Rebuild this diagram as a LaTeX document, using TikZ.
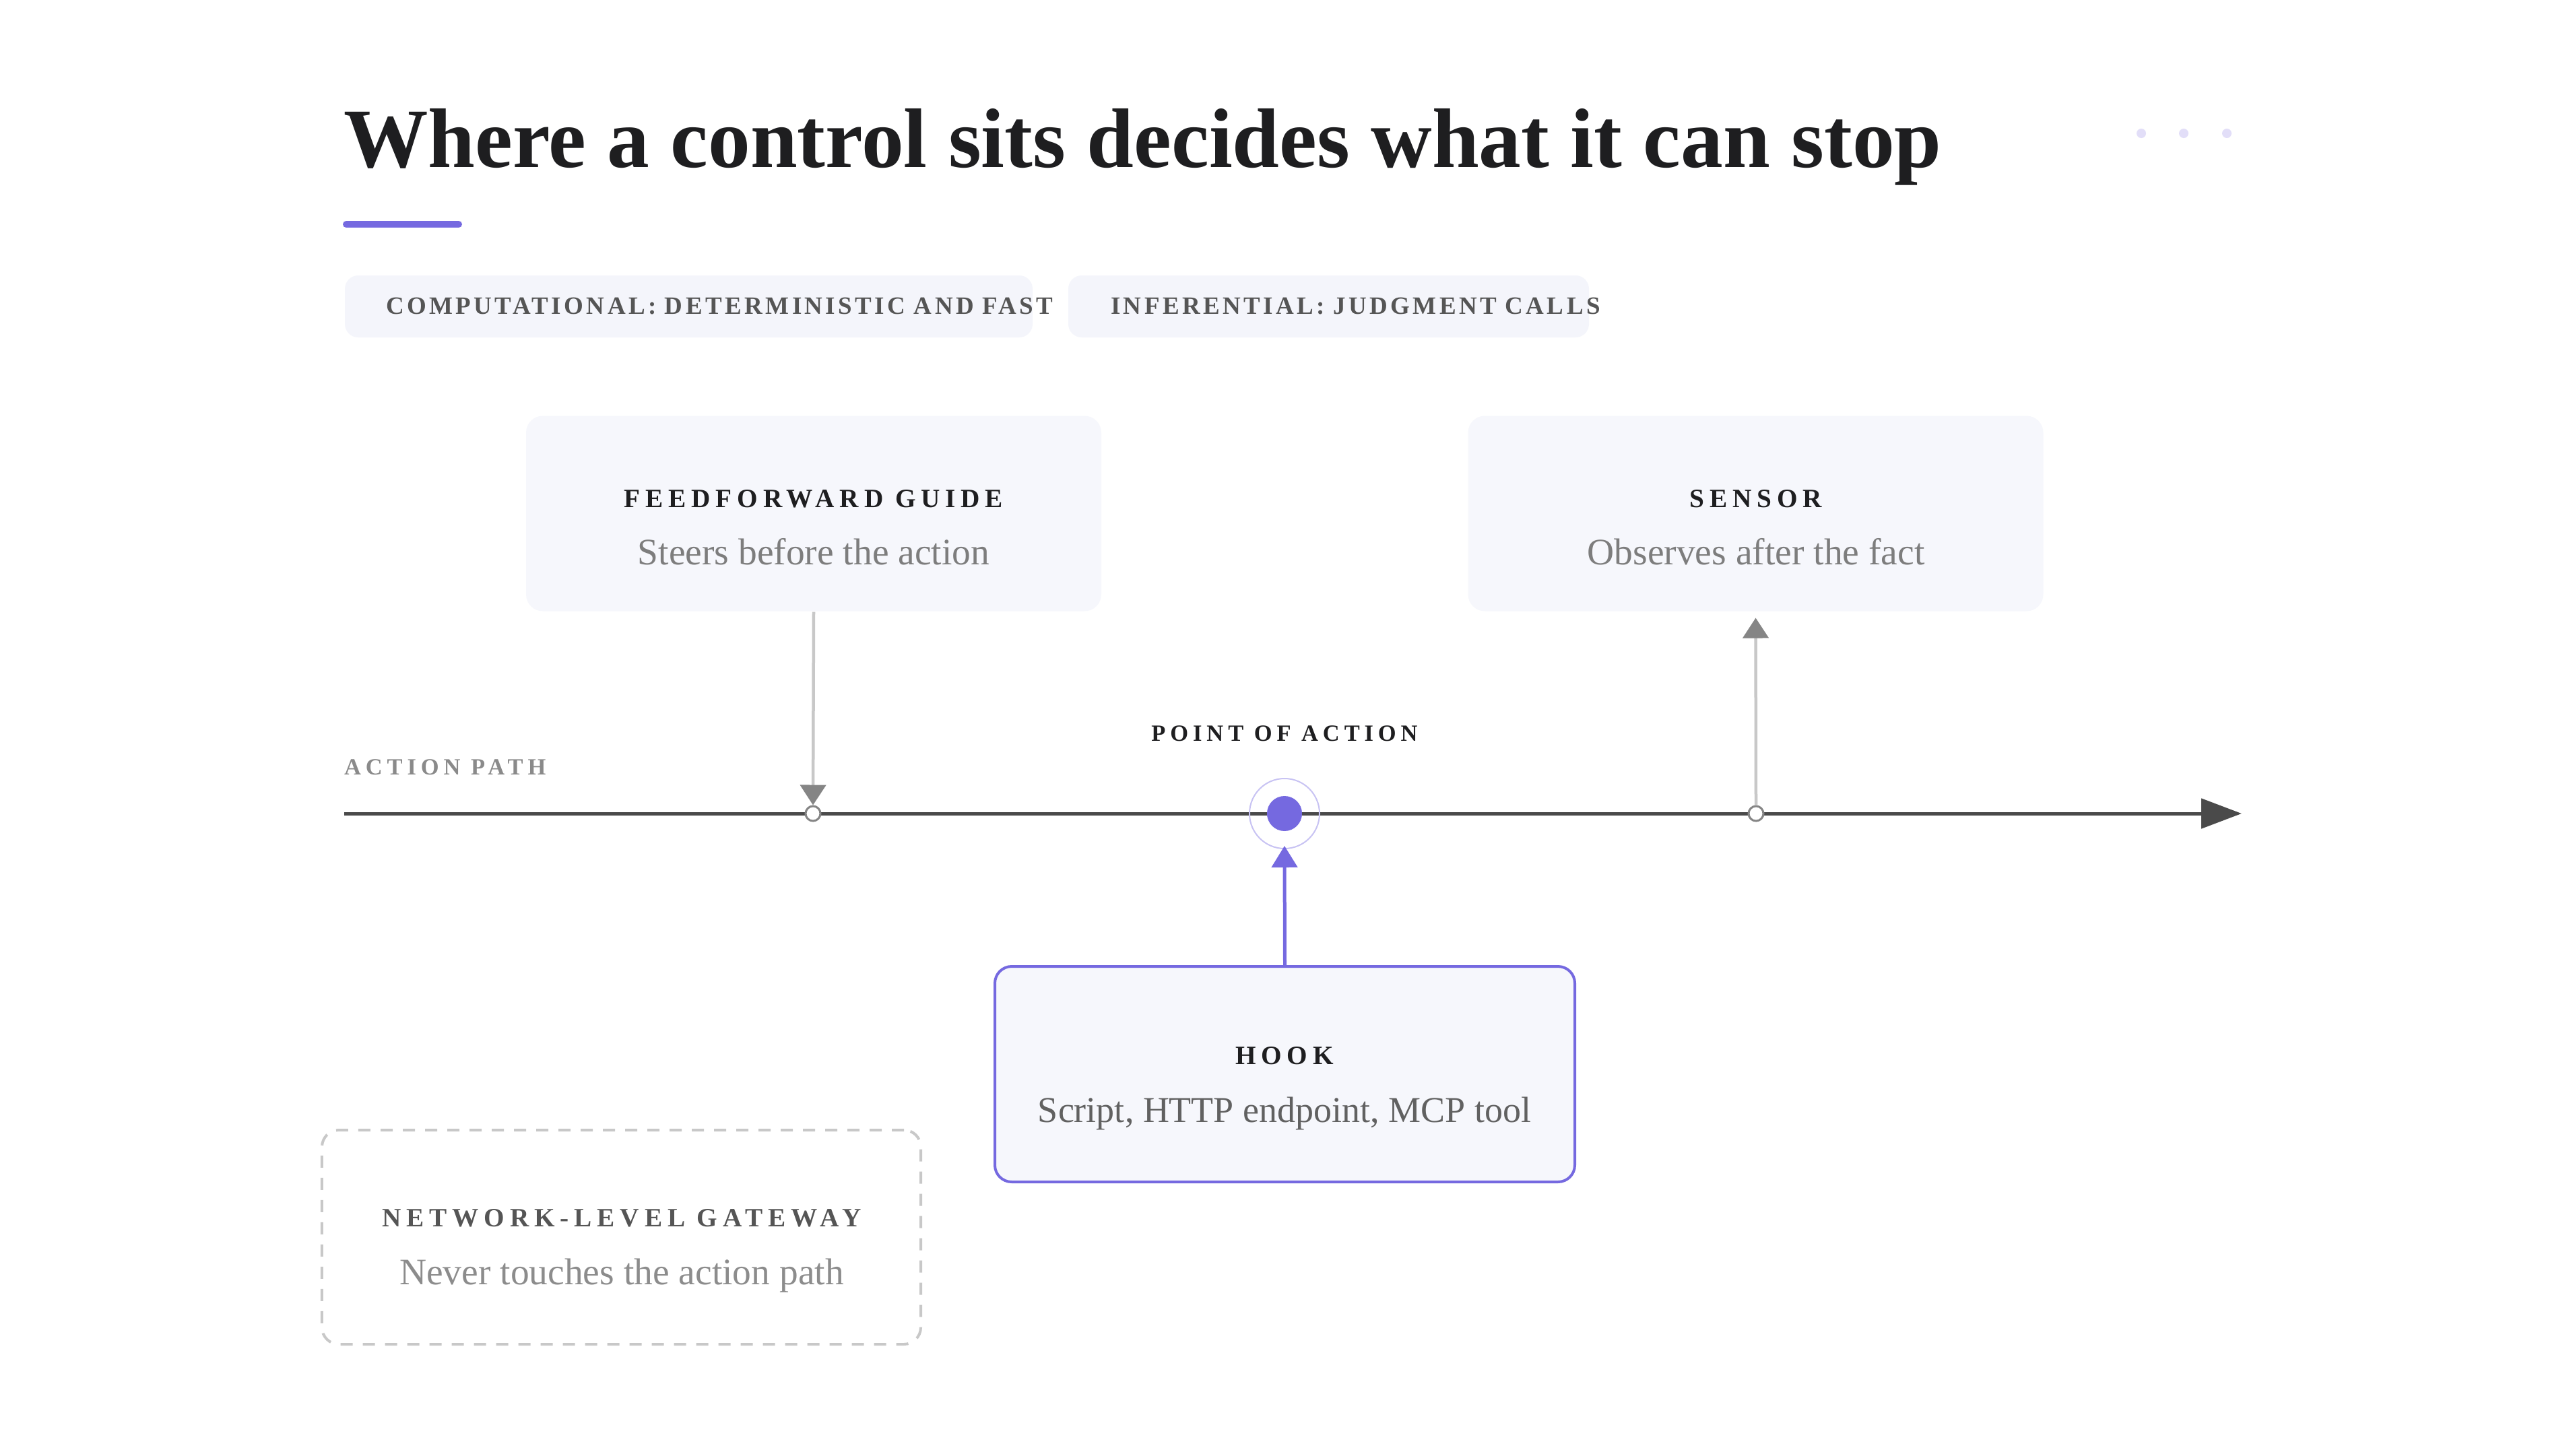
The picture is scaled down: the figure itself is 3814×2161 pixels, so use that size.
\documentclass[tikz,border=0pt]{standalone}
\usepackage{fontspec}
\setmainfont{Liberation Serif}
\newfontfamily\spacedfont[LetterSpace=20]{Liberation Serif}
\newfontfamily\tagfont[LetterSpace=12]{Liberation Serif}
\usetikzlibrary{arrows.meta}

\definecolor{ink}{HTML}{1E1E20}
\definecolor{accent}{HTML}{7569E0}
\definecolor{panelbg}{HTML}{F6F7FC}
\definecolor{tagbg}{HTML}{F4F5FB}
\definecolor{tagtext}{HTML}{555555}
\definecolor{subtext}{HTML}{7D7D7D}
\definecolor{pathgray}{HTML}{8A8A8A}
\definecolor{axisgray}{HTML}{4A4A4A}
\definecolor{wiregray}{HTML}{C8C8C8}
\definecolor{tipgray}{HTML}{858585}
\definecolor{dotfill}{HTML}{E2DEF8}

\begin{document}
\begin{tikzpicture}[x=0.2pt,y=-0.2pt,
  txt/.style={inner sep=0pt,anchor=base},
  heading/.style={txt,anchor=base west,text=ink,font=\fontsize{25.1}{30}\selectfont\bfseries},
  boxttl/.style={txt,text=ink,font=\spacedfont\bfseries\fontsize{7.85}{9}\selectfont},
  boxsub/.style={txt,text=subtext,font=\fontsize{11.1}{13}\selectfont},
  lbl/.style={txt,font=\spacedfont\bfseries\fontsize{6.9}{8}\selectfont},
  tag/.style={fill=tagbg,rounded corners=4pt,anchor=west,align=left,minimum height=18.4pt,
    inner ysep=0pt,text=tagtext,font=\tagfont\bfseries\fontsize{7.4}{9}\selectfont},
  panel/.style={fill=panelbg,rounded corners=5pt,inner sep=0pt,minimum width=170.8pt,minimum height=58pt},
  hookbox/.style={panel,draw=accent,line width=0.8pt,minimum width=172.2pt,minimum height=64pt},
  gatebox/.style={fill=white,draw=wiregray,line width=0.8pt,dash pattern=on 3.6pt off 3pt,
    rounded corners=5pt,inner sep=0pt,minimum width=177.8pt,minimum height=63.6pt},
  tick/.style={circle,draw=tipgray,line width=0.6pt,fill=white,inner sep=0pt,minimum size=4.4pt},
  poadot/.style={circle,fill=accent,inner sep=0pt,minimum size=10.4pt},
  poaring/.style={circle,draw=accent!40,line width=0.4pt,inner sep=0pt,minimum size=20.8pt},
  wire/.style={wiregray,line width=0.9pt,-{Triangle[length=6pt,width=7.6pt,color=tipgray]}},
  hookwire/.style={accent,line width=1pt,-{Triangle[length=6.4pt,width=7.6pt]}},
  axisline/.style={axisgray,line width=1pt,-{Triangle[length=12pt,width=8.8pt]}}]

  \useasboundingbox (0,0) rectangle (3814,2161);
  \fill[white] (0,0) rectangle (3814,2161);

  \node[heading] (title) at (509,248) {Where a control sits decides what it can stop};
  \draw[accent,line width=2pt,line cap=round] (514,333) -- (681,333);
  \foreach \dx in {3179,3242,3306}
    \fill[dotfill] (\dx,198) circle (1.4pt);

  \node[tag,inner xsep=12.2pt,text width=179.8pt] (tagcomp) at (511,455)
    {\mbox{COMPUTATIONAL: DETERMINISTIC AND FAST}};
  \node[tag,inner xsep=12.6pt,text width=129.4pt] (taginf) at (1585,455)
    {\mbox{INFERENTIAL: JUDGMENT CALLS}};

  \node[panel] (ffguide) at (1208,762.5) {};
  \node[boxttl] (ffguide-t) at (1208,753) {FEEDFORWARD GUIDE};
  \node[boxsub] (ffguide-s) at (1208,838) {Steers before the action};

  \node[panel] (sensor) at (2606.5,762.5) {};
  \node[boxttl] (sensor-t) at (2607,753) {SENSOR};
  \node[boxsub] (sensor-s) at (2607,838) {Observes after the fact};

  \coordinate (pathstart) at (511,1208);
  \coordinate (pathend) at (3328,1208);
  \draw[axisline] (pathstart) -- (pathend);
  \node[lbl,anchor=base west,text=pathgray] (pathlabel) at (510,1150) {ACTION PATH};
  \node[lbl,text=ink] (poalabel) at (1907,1100) {POINT OF ACTION};

  \node[tick] (ffpt) at (1207,1208) {};
  \node[tick] (sensorpt) at (2607,1208) {};
  \node[poaring] (poaring) at (1907,1208) {};
  \node[poadot] (poa) at (1907,1208) {};

  \node[hookbox] (hook) at (1907.5,1595) {};
  \node[boxttl] (hook-t) at (1907,1580) {HOOK};
  \node[boxsub,text=black!62,font=\fontsize{10.8}{13}\selectfont] (hook-s) at (1907,1666) {Script, HTTP endpoint, MCP tool};

  \node[gatebox] (gateway) at (922.5,1837) {};
  \node[boxttl,text=tagtext] (gateway-t) at (923,1821) {NETWORK-LEVEL GATEWAY};
  \node[boxsub,text=black!45] (gateway-s) at (923,1907) {Never touches the action path};

  \draw[wire] (ffguide.south) -- (ffpt.north);
  \draw[wire,shorten >=1.8pt] (sensorpt.north) -- (sensor.south);
  \draw[hookwire,shorten >=-1pt] (hook.north) -- (poaring.south);
\end{tikzpicture}
\end{document}
